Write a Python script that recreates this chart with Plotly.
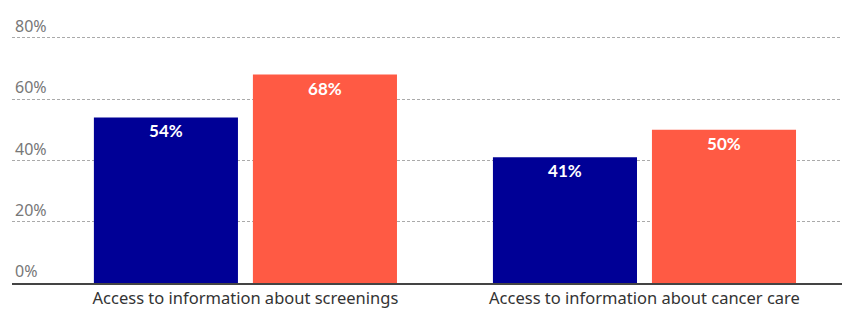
import plotly.graph_objects as go

categories = ["Access to information about screenings", "Access to information about cancer care"]
series_a = [54, 41]
series_b = [68, 50]
y_ticks = [0, 20, 40, 60, 80]
y_tick_labels = ["0%", "20%", "40%", "60%", "80%"]

blue = "#000096"
orange = "#FF5A44"

fig = go.Figure()
for vals, col in [(series_a, blue), (series_b, orange)]:
    fig.add_trace(go.Bar(
        x=categories, y=vals, marker=dict(color=col, line=dict(width=0)),
        text=[f"<br>{v}%" for v in vals],
        textposition="inside", insidetextanchor="end",
        textfont=dict(family="Lato", size=17, color="white", weight="bold"),
        textangle=0, hoverinfo="skip", showlegend=False,
    ))

fig.update_layout(
    width=851, height=309,
    margin=dict(l=12, r=9, t=13, b=26, autoexpand=False),
    paper_bgcolor="white", plot_bgcolor="white",
    barmode="group", bargap=0.203, bargroupgap=0.094,
    uniformtext=dict(mode=False),
    font=dict(family="Noto Sans", size=16, color="#333333"),
)
fig.update_xaxes(
    range=[-0.585, 1.495], showgrid=False, showline=True, linecolor="#444444", linewidth=1.5,
    ticks="", tickfont=dict(family="Noto Sans", size=16.5, color="#333333"), fixedrange=True,
    automargin=False,
)
fig.update_yaxes(
    range=[0, 88.06], tickvals=y_ticks, ticktext=y_tick_labels,
    ticklabelposition="inside top", ticklabeloverflow="allow",
    tickfont=dict(family="Noto Sans", size=16, color="#777777"),
    showgrid=True, gridcolor="#AAAAAA", gridwidth=1, griddash="3px,2px",
    zeroline=False, showline=False, ticks="", fixedrange=True, automargin=False,
)
fig.write_html(
    "out.html",
    config={"displayModeBar": False, "staticPlot": True},
    post_script="document.body.style.margin='0px';document.body.style.overflow='hidden';",
)
